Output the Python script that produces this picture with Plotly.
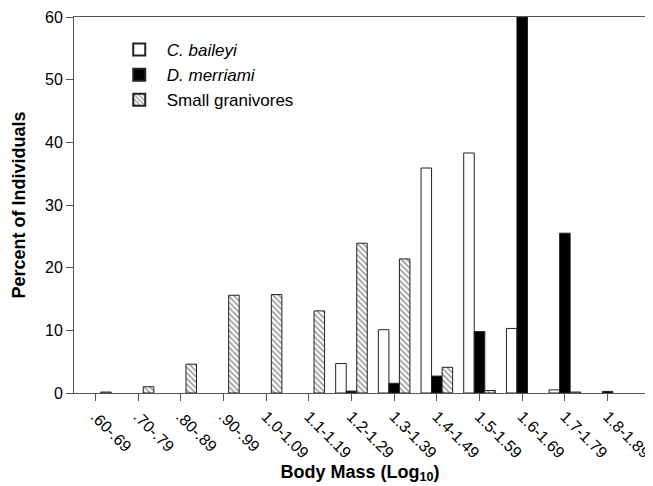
import plotly.graph_objects as go

categories = [".60-.69", ".70-.79", ".80-.89", ".90-.99", "1.0-1.09", "1.1-1.19",
              "1.2-1.29", "1.3-1.39", "1.4-1.49", "1.5-1.59", "1.6-1.69", "1.7-1.79", "1.8-1.89"]
c_baileyi = [0, 0, 0, 0, 0, 0, 4.7, 10.1, 35.9, 38.3, 10.3, 0.5, 0]
d_merriami = [0, 0, 0, 0, 0, 0, 0.3, 1.55, 2.7, 9.8, 60, 25.5, 0.25]
small_granivores = [0.15, 1.0, 4.6, 15.6, 15.7, 13.1, 23.9, 21.4, 4.1, 0.4, 0, 0.15, 0]

xidx = list(range(len(categories)))
edge = dict(color="#222222", width=1)


def nz(vals):
    # zero-height bars are not drawn in the reference
    return [v if v else None for v in vals]


fig = go.Figure()
fig.add_trace(go.Bar(x=xidx, y=nz(c_baileyi), name="<i>C. baileyi</i>",
                     marker=dict(color="white", line=edge)))
fig.add_trace(go.Bar(x=xidx, y=nz(d_merriami), name="<i>D. merriami</i>",
                     marker=dict(color="black", line=edge)))
fig.add_trace(go.Bar(x=xidx, y=nz(small_granivores), name="Small granivores",
                     marker=dict(color="white", line=edge,
                                 pattern=dict(shape="\\", fgcolor="#333333", bgcolor="white",
                                              size=4, solidity=0.4))))

# the page offsets the figure by ~8px right and down, so the margins compensate
fig.update_layout(
    width=653, height=486,
    margin=dict(l=66, r=15, t=9, b=101),
    paper_bgcolor="white", plot_bgcolor="white",
    barmode="group", bargap=0.26, bargroupgap=0,
    font=dict(family="Arial, Liberation Sans, sans-serif", size=16, color="black"),
    showlegend=True,
    legend=dict(x=0.066, y=0.96, xanchor="left", yanchor="top",
                bgcolor="rgba(0,0,0,0)", font=dict(size=17), tracegroupgap=0,
                itemwidth=45, itemsizing="constant"),
)
fig.update_xaxes(
    range=[-0.5, 12.9], tickmode="array", tickvals=xidx, ticktext=categories,
    tickangle=45, tickfont=dict(size=16), ticks="outside", ticklen=7, tickcolor="#555555",
    ticklabeloverflow="allow",
    showline=True, linecolor="#555555", linewidth=1, mirror=True,
    showgrid=False, zeroline=False, automargin=False,
    title=dict(text="<b>Body Mass (Log<sub>10</sub>)</b>", font=dict(size=18), standoff=2),
)
fig.update_yaxes(
    range=[0, 60], tickmode="array", tickvals=[0, 10, 20, 30, 40, 50, 60],
    tickfont=dict(size=16), ticks="outside", ticklen=7, tickcolor="#555555",
    showline=True, linecolor="#555555", linewidth=1, mirror=True,
    showgrid=False, zeroline=False, automargin=False,
    title=dict(text="<b>Percent of Individuals</b>", font=dict(size=18), standoff=14),
)

fig.write_html("out.html")
